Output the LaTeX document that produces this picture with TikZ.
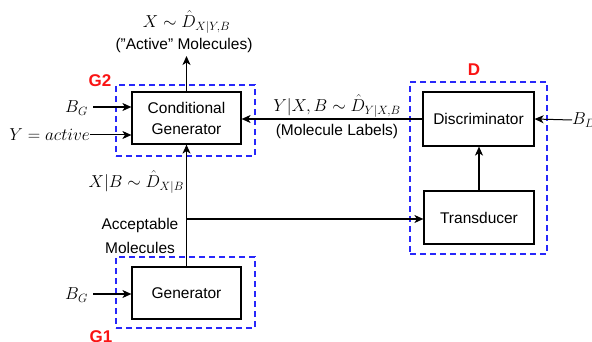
\documentclass[tikz,border=0pt]{standalone}
\usepackage{fontspec}
\setmainfont{Liberation Sans}
\usetikzlibrary{arrows.meta}
\definecolor{dblue}{RGB}{40,40,250}
\definecolor{lred}{RGB}{250,20,20}
\tikzset{
  blk/.style={draw=black, line width=1.2pt, minimum width=109pt, minimum height=52pt, align=center, font=\fontsize{15.5}{21}\selectfont, inner sep=0pt},
  grp/.style={draw=dblue, line width=1.1pt, dash pattern=on 6pt off 4pt, inner sep=0pt},
  glabel/.style={text=lred, font=\fontsize{17}{20}\selectfont\bfseries},
  arr/.style={-{Stealth[length=9pt,width=8pt,inset=2.5pt]}, line width=1.3pt},
  txt/.style={font=\fontsize{15.5}{21}\selectfont, inner sep=0pt},
  mth/.style={font=\fontsize{16.5}{20}\selectfont, inner sep=0pt}
}
\begin{document}
\begin{tikzpicture}[x=1pt,y=-1pt]
\useasboundingbox (0,0) rectangle (592,342);
% group boxes
\node[grp, minimum width=139pt, minimum height=71pt] (g2) at (185.5,120.5) {};
\node[grp, minimum width=139pt, minimum height=71pt] (g1) at (185.5,292.5) {};
\node[grp, minimum width=137pt, minimum height=172pt] (dg) at (478.5,168) {};
\node[glabel] (g2l) at (100,81) {G2};
\node[glabel] (g1l) at (101,337) {G1};
\node[glabel] (dl) at (474,70) {D};
% blocks
\node[blk] (cg) at (186.5,118) {Conditional\\Generator};
\node[blk] (gen) at (186.5,293) {Generator};
\node[blk, minimum width=111pt, minimum height=54pt] (disc) at (478.5,119) {Discriminator};
\node[blk, minimum width=110pt, minimum height=53pt] (trans) at (479,217.5) {Transducer};
% output
\coordinate (out) at (186.5,56);
\draw[arr] (cg.north) -- (out);
\node[mth] (outm) at (186.5,22) {$X \sim \hat{D}_{X|Y,B}$};
\node[txt] (outt) at (184,45) {("Active" Molecules)};
% inputs to conditional generator
\node[mth, anchor=east] (bg1) at (88,108) {$B_G$};
\coordinate (bg1s) at (93,107);
\draw[arr] (bg1s) -- (bg1s -| cg.west);
\node[mth, anchor=east] (ya) at (90,135) {$Y = active$};
\draw[arr, line width=1pt] (ya.east) -- (ya -| cg.west);
% discriminator to conditional generator
\draw[arr] (disc.west) -- (disc.west -| cg.east);
\node[mth] (yl) at (337,106) {$Y|X,B \sim \hat{D}_{Y|X,B}$};
\node[txt] (ml) at (337,131) {(Molecule Labels)};
\node[mth, anchor=west] (bd) at (572,120) {$B_D$};
\draw[arr, line width=1pt] (bd.west) -- (disc.east);
% transducer to discriminator
\draw[arr] (trans.north) -- (trans.north |- disc.south);
% generator up
\draw[arr] (gen.north) -- (cg.south);
\coordinate (br) at (186.5,219);
\draw[arr] (br) -- (br -| trans.west);
\node[mth, anchor=east] (xb) at (184,182) {$X|B \sim \hat{D}_{X|B}$};
\node[txt] (acc) at (140,225) {Acceptable};
\node[txt] (mol) at (140,248) {Molecules};
% generator input
\node[mth, anchor=east] (bg2) at (88,295) {$B_G$};
\coordinate (bg2s) at (93,294);
\draw[arr] (bg2s) -- (bg2s -| gen.west);
\end{tikzpicture}
\end{document}
